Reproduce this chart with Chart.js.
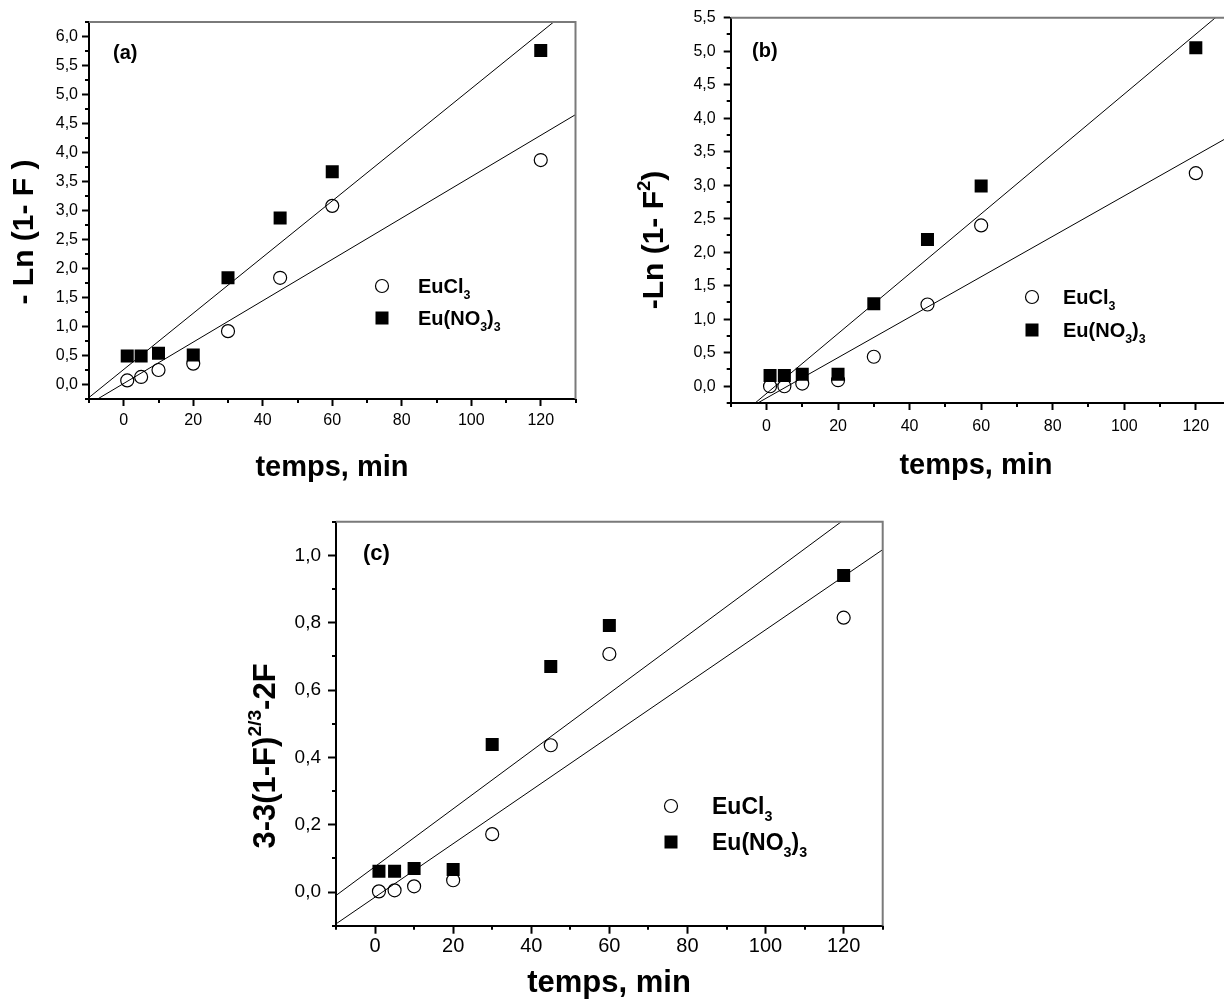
<!DOCTYPE html>
<html lang="fr">
<head>
<meta charset="UTF-8">
<title>Cinétique de dissolution - Eu</title>
<script src="https://cdn.jsdelivr.net/npm/chart.js"></script>
<style>
  html, body { margin: 0; padding: 0; background: #fff; overflow: hidden; }
  #page { position: relative; width: 1224px; height: 1007px; overflow: hidden; background: #fff; }
  canvas { position: absolute; }
</style>
</head>
<body>
<div id="page">
  <canvas id="chartA" width="600" height="500" style="left:0px;top:0px"></canvas>
  <canvas id="chartB" width="640" height="500" style="left:610px;top:0px"></canvas>
  <canvas id="chartC" width="680" height="507" style="left:240px;top:500px"></canvas>
</div>
<script>
// temps (min)
const times = [1, 5, 10, 20, 30, 45, 60, 120];

// (a) -Ln(1-F)
const euCl3A = [0.07, 0.13, 0.25, 0.36, 0.92, 1.84, 3.08, 3.87];
const euNO3A = [0.49, 0.49, 0.54, 0.51, 1.84, 2.87, 3.67, 5.76];
// (b) -Ln(1-F^2)
const euCl3B = [0.00, 0.00, 0.04, 0.09, 0.44, 1.22, 2.40, 3.18];
const euNO3B = [0.16, 0.16, 0.18, 0.18, 1.23, 2.19, 2.99, 5.05];
// (c) 3-3(1-F)^2/3-2F
const euCl3C = [0.002, 0.005, 0.017, 0.035, 0.172, 0.436, 0.707, 0.815];
const euNO3C = [0.062, 0.062, 0.070, 0.067, 0.438, 0.670, 0.792, 0.940];

// graduations
const xTicks = [0, 20, 40, 60, 80, 100, 120];
const yTicksA = [0, 0.5, 1, 1.5, 2, 2.5, 3, 3.5, 4, 4.5, 5, 5.5, 6];
const yTicksB = [0, 0.5, 1, 1.5, 2, 2.5, 3, 3.5, 4, 4.5, 5, 5.5];
const yTicksC = [0, 0.2, 0.4, 0.6, 0.8, 1.0];

const FONT = "'Liberation Sans', Arial, Helvetica, sans-serif";
Chart.defaults.font.family = FONT;
Chart.defaults.color = '#000';

// droite des moindres carrés
function fit(xs, ys) {
    const n = xs.length;
    const mx = xs.reduce((s, v) => s + v, 0) / n;
    const my = ys.reduce((s, v) => s + v, 0) / n;
    let sxy = 0, sxx = 0;
    xs.forEach((x, i) => { sxy += (x - mx) * (ys[i] - my); sxx += (x - mx) * (x - mx); });
    const b = sxy / sxx;
    return { a: my - b * mx, b: b };
}

// texte avec indices / exposants : segments [texte, 'sub'|'sup'|'']
function richWidth(ctx, segs, size) {
    let w = 0;
    segs.forEach(([t, k]) => {
        ctx.font = 'bold ' + (k ? size * 0.62 : size) + 'px ' + FONT;
        w += ctx.measureText(t).width;
    });
    return w;
}
function drawRich(ctx, segs, x, y, size) {
    ctx.textBaseline = 'alphabetic';
    ctx.textAlign = 'left';
    segs.forEach(([t, k]) => {
        const s = k ? size * 0.62 : size;
        ctx.font = 'bold ' + s + 'px ' + FONT;
        let dy = 0;
        if (k === 'sub') dy = size * 0.3;
        if (k === 'sup') dy = -size * 0.45;
        ctx.fillText(t, x, y + dy);
        x += ctx.measureText(t).width;
    });
}

const decor = {
    id: 'decor',
    afterDraw(chart, args, o) {
        const ctx = chart.ctx;
        const a = chart.chartArea;
        const sx = chart.scales.x, sy = chart.scales.y;
        const L = o.L, T = o.T;
        ctx.save();

        // cadre haut / droite
        ctx.strokeStyle = '#7a7a7a';
        ctx.lineWidth = 2;
        ctx.beginPath();
        ctx.moveTo(a.left, a.top);
        ctx.lineTo(a.right, a.top);
        ctx.lineTo(a.right, a.bottom);
        ctx.stroke();

        // petites graduations
        ctx.strokeStyle = '#000';
        ctx.lineWidth = 2;
        ctx.beginPath();
        for (let v = sx.min; v <= sx.max + 1e-9; v += o.minorX) {
            if (xTicks.some(t => Math.abs(t - v) < 1e-6)) continue;
            const px = Math.round(sx.getPixelForValue(v));
            ctx.moveTo(px, a.bottom);
            ctx.lineTo(px, a.bottom + 4);
        }
        for (let v = sy.min; v <= sy.max + 1e-9; v += o.minorY) {
            if (o.yTicks.some(t => Math.abs(t - v) < 1e-6)) continue;
            const py = Math.round(sy.getPixelForValue(v));
            ctx.moveTo(a.left, py);
            ctx.lineTo(a.left - 4, py);
        }
        ctx.stroke();

        ctx.fillStyle = '#000';
        // étiquette du panneau
        ctx.font = 'bold ' + o.labelSize + 'px ' + FONT;
        ctx.textAlign = 'left';
        ctx.textBaseline = 'alphabetic';
        ctx.fillText(o.label, o.labelX - L, o.labelY - T);

        // légende
        const lg = o.legend;
        ctx.lineWidth = 1.2;
        ctx.strokeStyle = '#000';
        ctx.fillStyle = '#fff';
        ctx.beginPath();
        ctx.arc(lg.x - L, lg.y1 - T, 6.5, 0, Math.PI * 2);
        ctx.fill();
        ctx.stroke();
        ctx.fillStyle = '#000';
        ctx.fillRect(lg.x - L - 6.5, lg.y2 - T - 6.5, 13, 13);
        drawRich(ctx, [['EuCl', ''], ['3', 'sub']], lg.tx - L, lg.y1 - T + lg.size * 0.36, lg.size);
        drawRich(ctx, [['Eu(NO', ''], ['3', 'sub'], [')', ''], ['3', 'sub']], lg.tx - L, lg.y2 - T + lg.size * 0.36, lg.size);

        // titre de l'axe x
        ctx.font = 'bold ' + o.xTitleSize + 'px ' + FONT;
        ctx.textAlign = 'center';
        ctx.fillText('temps, min', o.xTitleX - L, o.xTitleY - T);

        // titre de l'axe y (vertical)
        ctx.translate(o.yTitleX - L, o.yTitleY - T);
        ctx.rotate(-Math.PI / 2);
        const w = richWidth(ctx, o.yTitle, o.yTitleSize);
        drawRich(ctx, o.yTitle, -w / 2, 0, o.yTitleSize);

        ctx.restore();
    }
};

function makePanel(p) {
    const fCl = fit(times, p.cl);
    const fNo = fit(times, p.no3);
    const xMin = -10, xMax = 130;
    const lineOf = f => [{ x: xMin, y: f.a + f.b * xMin }, { x: xMax, y: f.a + f.b * xMax }];
    const fmtY = v => v.toFixed(1).replace('.', ',');

    new Chart(document.getElementById(p.id), {
        type: 'scatter',
        data: {
            datasets: [
                { type: 'line', data: lineOf(fNo), borderColor: '#000', borderWidth: 1, pointRadius: 0, order: 1 },
                { type: 'line', data: lineOf(fCl), borderColor: '#000', borderWidth: 1, pointRadius: 0, order: 1 },
                {
                    label: 'Eu(NO3)3', data: times.map((t, i) => ({ x: t, y: p.no3[i] })),
                    pointStyle: 'rect', pointRadius: 9.2, pointBackgroundColor: '#000',
                    pointBorderColor: '#000', pointBorderWidth: 0, order: 2
                },
                {
                    label: 'EuCl3', data: times.map((t, i) => ({ x: t, y: p.cl[i] })),
                    pointStyle: 'circle', pointRadius: 6.5, pointBackgroundColor: '#fff',
                    pointBorderColor: '#000', pointBorderWidth: 1.2, order: 3
                }
            ]
        },
        options: {
            responsive: false,
            animation: false,
            events: [],
            layout: { padding: { left: 0, top: p.padTop, right: p.padRight, bottom: 0 } },
            plugins: {
                legend: { display: false },
                tooltip: { enabled: false },
                decor: p.decor
            },
            scales: {
                x: {
                    type: 'linear', position: 'bottom', min: xMin, max: xMax,
                    afterBuildTicks: s => { s.ticks = xTicks.map(v => ({ value: v })); },
                    afterFit: s => { s.height = p.xAxisH; s.paddingLeft = 0; s.paddingRight = 0; },
                    ticks: { font: { size: p.xFont }, color: '#000', padding: p.xPad, maxRotation: 0, autoSkip: false,
                             callback: v => String(v) },
                    grid: { display: true, drawOnChartArea: false, drawTicks: true, tickLength: p.tickLen,
                            tickWidth: 2, tickColor: '#000' },
                    border: { display: true, color: '#000', width: 2 }
                },
                y: {
                    type: 'linear', position: 'left', min: p.yMin, max: p.yMax,
                    afterBuildTicks: s => { s.ticks = p.yTicks.map(v => ({ value: v })); },
                    afterFit: s => { s.width = p.yAxisW; s.paddingTop = 0; s.paddingBottom = 0; },
                    ticks: { font: { size: p.yFont }, color: '#000', padding: p.yPad, autoSkip: false,
                             callback: v => fmtY(v) },
                    grid: { display: true, drawOnChartArea: false, drawTicks: true, tickLength: p.tickLen,
                            tickWidth: 2, tickColor: '#000' },
                    border: { display: true, color: '#000', width: 2 }
                }
            }
        },
        plugins: [decor]
    });
}

makePanel({
    id: 'chartA', cl: euCl3A, no3: euNO3A, yMin: -0.25, yMax: 6.25, yTicks: yTicksA,
    padTop: 22, padRight: 24.5, yAxisW: 89, xAxisH: 101,
    xFont: 16, yFont: 16, xPad: 5, yPad: 4, tickLen: 7,
    decor: {
        L: 0, T: 0, yTicks: yTicksA, minorX: 10, minorY: 0.25,
        label: '(a)', labelX: 113, labelY: 59, labelSize: 20,
        legend: { x: 382, y1: 286, y2: 318, tx: 418, size: 20 },
        xTitleX: 332, xTitleY: 476, xTitleSize: 29,
        yTitle: [['- Ln (1- F )', '']], yTitleX: 33, yTitleY: 232, yTitleSize: 30
    }
});

makePanel({
    id: 'chartB', cl: euCl3B, no3: euNO3B, yMin: -0.25, yMax: 5.5, yTicks: yTicksB,
    padTop: 17.7, padRight: 18.4, yAxisW: 120.7, xAxisH: 97,
    xFont: 16, yFont: 16, xPad: 7, yPad: 8, tickLen: 7,
    decor: {
        L: 610, T: 0, yTicks: yTicksB, minorX: 10, minorY: 0.25,
        label: '(b)', labelX: 752, labelY: 57, labelSize: 20,
        legend: { x: 1032, y1: 297, y2: 330, tx: 1063, size: 20 },
        xTitleX: 976, xTitleY: 474, xTitleSize: 29,
        yTitle: [['-Ln (1- F', ''], ['2', 'sup'], [')', '']], yTitleX: 663, yTitleY: 240, yTitleSize: 30
    }
});

makePanel({
    id: 'chartC', cl: euCl3C, no3: euNO3C, yMin: -0.1, yMax: 1.1, yTicks: yTicksC,
    padTop: 21.7, padRight: 37.3, yAxisW: 96, xAxisH: 81.3,
    xFont: 20, yFont: 19, xPad: 1, yPad: 7, tickLen: 8,
    decor: {
        L: 240, T: 500, yTicks: yTicksC, minorX: 10, minorY: 0.1,
        label: '(c)', labelX: 363, labelY: 560, labelSize: 22,
        legend: { x: 671, y1: 806, y2: 842, tx: 712, size: 23 },
        xTitleX: 609, xTitleY: 992, xTitleSize: 31,
        yTitle: [['3-3(1-F)', ''], ['2/3', 'sup'], ['-2F', '']], yTitleX: 275, yTitleY: 756, yTitleSize: 31
    }
});
</script>
</body>
</html>
